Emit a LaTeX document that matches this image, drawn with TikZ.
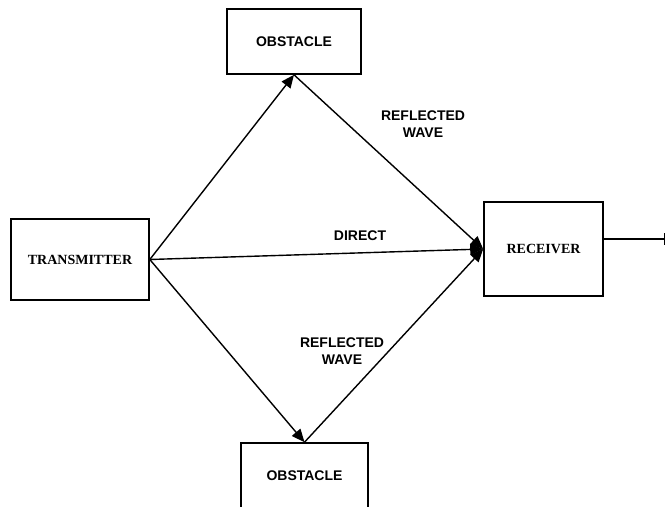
\documentclass[tikz,border=0pt]{standalone}
\usepackage{fontspec}
\setmainfont{Liberation Serif}
\setsansfont{Liberation Sans}
\usepackage{tikz}
\usetikzlibrary{shapes,arrows,arrows.meta,positioning}

\begin{document}
\begin{tikzpicture}[x=1pt, y=-1pt]
		\tikzstyle{Block}	= [rectangle, draw, line width=1.6pt, inner sep=0pt, fill=white]
		\tikzstyle{Serif}	= [font=\fontsize{14}{17}\selectfont\rmfamily\bfseries]
		\tikzstyle{Sans}	= [font=\fontsize{14}{17}\selectfont\sffamily\bfseries, align=center]
		\tikzstyle{Wave}	= [line width=1.4pt, -{Triangle[length=13pt, width=11pt]}]
		\tikzstyle{Out}		= [line width=1.4pt, -{Bar[width=12pt]}]

		\useasboundingbox (0, 0) rectangle (666, 506);

		\node (tx) at (80, 259.5) [Block][Serif, minimum width=138pt, minimum height=81pt] {TRANSMITTER};
		\node (rx) at (543.5, 249) [Block][Serif, minimum width=119pt, minimum height=94pt] {RECEIVER};
		\node (obs1) at (294, 41.5) [Block][Sans, minimum width=134pt, minimum height=65pt] {OBSTACLE};
		\node (obs2) at (304.5, 476) [Block][Sans, minimum width=127pt, minimum height=66pt] {OBSTACLE};

		\node (refl1) at (423, 124) [Sans] {REFLECTED\\WAVE};
		\node (direct) at (360, 236) [Sans] {DIRECT};
		\node (refl2) at (342, 351) [Sans] {REFLECTED\\WAVE};

		\coordinate (out) at (665, 239);

		\draw (tx.east) to (obs1.south) [Wave];
		\draw (tx.east) to (rx.west) [Wave];
		\draw (tx.east) to (obs2.north) [Wave];
		\draw (obs1.south) to (rx.west) [Wave];
		\draw (obs2.north) to (rx.west) [Wave];
		\draw ([yshift=10pt]rx.east) to (out) [Out];
	\end{tikzpicture}
\end{document}
